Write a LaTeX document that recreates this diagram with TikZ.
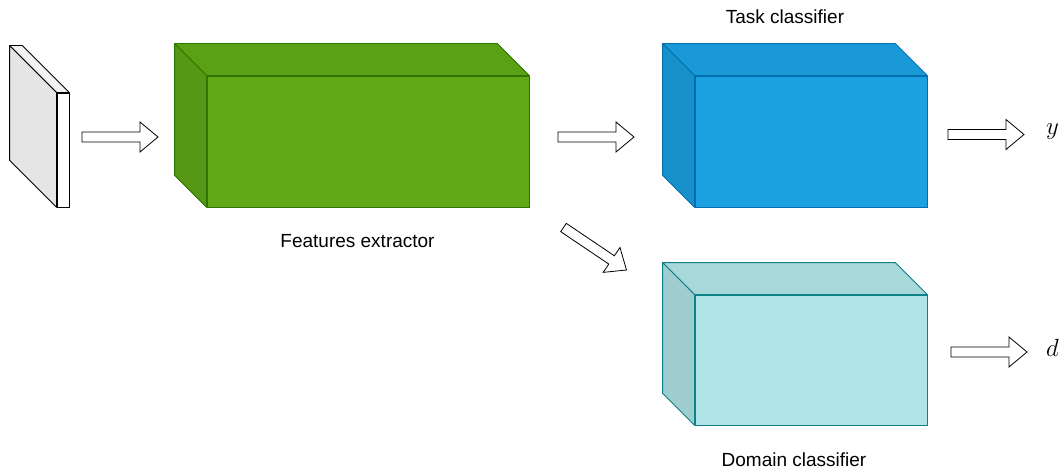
\documentclass[tikz,border=0pt]{standalone}
\usepackage{fontspec}
\setmainfont{Liberation Sans}
\usetikzlibrary{positioning}

\definecolor{featgreen}{HTML}{60A917}
\definecolor{featstroke}{HTML}{2D7600}
\definecolor{taskblue}{HTML}{1BA1E2}
\definecolor{taskstroke}{HTML}{006EAF}
\definecolor{domteal}{HTML}{B0E3E6}
\definecolor{domstroke}{HTML}{0E8088}

% top and left faces of a box whose front face is a node
\newcommand{\boxsides}[4]{%
  \filldraw[draw=#4, fill=#3!95!black, line width=0.8pt, line join=round]
    (#1.north west) -- ++(-#2,-#2) -- ([shift={(-#2,-#2)}]#1.north east) -- (#1.north east) -- cycle;
  \filldraw[draw=#4, fill=#3!90!black, line width=0.8pt, line join=round]
    (#1.north west) -- ++(-#2,-#2) -- ([shift={(-#2,-#2)}]#1.south west) -- (#1.south west) -- cycle;
}

\begin{document}
\begin{tikzpicture}[
    x=1pt, y=-1pt,
    front/.style={rectangle, draw, inner sep=0pt, line width=0.8pt},
    caption/.style={font=\fontsize{19}{22}\selectfont, inner sep=0pt},
    outvar/.style={font=\fontsize{23}{26}\selectfont, inner sep=0pt, anchor=base west},
    fatarrow/.pic={\filldraw[draw=black, fill=white, line width=0.8pt, line join=miter]
      (0,-5) -- (58,-5) -- (58,-15) -- (76,0) -- (58,15) -- (58,5) -- (0,5) -- cycle;}
]
\useasboundingbox (0,0) rectangle (1062,473);

% Boxes
\node[front, fill=white, minimum width=12, minimum height=114] (input) at (63,150) {};
\boxsides{input}{47}{white}{black}
\node[front, draw=featstroke, fill=featgreen, minimum width=322, minimum height=131] (extractor) at (368,141.5) {};
\boxsides{extractor}{32}{featgreen}{featstroke}
\node[front, draw=taskstroke, fill=taskblue, minimum width=232, minimum height=131] (task) at (811,141.5) {};
\boxsides{task}{32}{taskblue}{taskstroke}
\node[front, draw=domstroke, fill=domteal, minimum width=232, minimum height=130] (domain) at (811,360) {};
\boxsides{domain}{32}{domteal}{domstroke}

% Labels
\node[caption] (extractor-label) at (357.5,241.5) {Features extractor};
\node[caption] (task-label) at (785,17) {Task classifier};
\node[caption] (domain-label) at (794,459.5) {Domain classifier};
\node[outvar] (y-out) at (1046,135) {$y$};
\node[outvar] (d-out) at (1046,356) {$d$};

% Arrows
\pic at (82,137) {fatarrow};
\pic at (558,137) {fatarrow};
\pic[rotate=-34] at (563.5,227.5) {fatarrow};
\pic at (948,134.5) {fatarrow};
\pic at (951,352) {fatarrow};

\end{tikzpicture}
\end{document}
